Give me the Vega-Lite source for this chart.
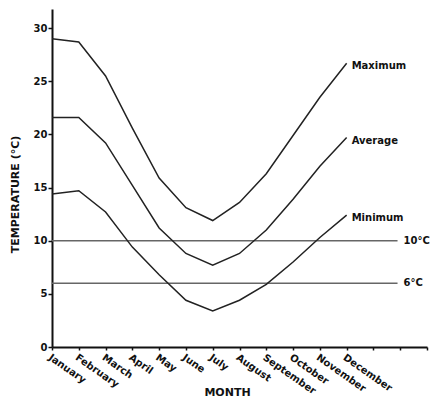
{
  "$schema": "https://vega.github.io/schema/vega-lite/v6.json",
  "width": 375,
  "height": 338,
  "autosize": "none",
  "padding": {"left": 52, "top": 9, "right": 6, "bottom": 54},
  "background": "white",
  "config": {
    "view": {"stroke": null},
    "font": "DejaVu Sans",
    "axis": {"grid": false, "domainColor": "#111", "domainWidth": 2, "tickColor": "#111", "tickWidth": 1.5, "labelFont": "DejaVu Sans", "labelFontWeight": "bold", "labelColor": "#111", "titleFont": "DejaVu Sans", "titleFontWeight": "bold", "titleColor": "#111"}
  },
  "datasets": {
    "series": [
      {"month": 0, "temp": 29.0, "series": "Maximum"},
      {"month": 1, "temp": 28.7, "series": "Maximum"},
      {"month": 2, "temp": 25.5, "series": "Maximum"},
      {"month": 3, "temp": 20.6, "series": "Maximum"},
      {"month": 4, "temp": 15.9, "series": "Maximum"},
      {"month": 5, "temp": 13.1, "series": "Maximum"},
      {"month": 6, "temp": 11.9, "series": "Maximum"},
      {"month": 7, "temp": 13.6, "series": "Maximum"},
      {"month": 8, "temp": 16.3, "series": "Maximum"},
      {"month": 9, "temp": 19.9, "series": "Maximum"},
      {"month": 10, "temp": 23.5, "series": "Maximum"},
      {"month": 11, "temp": 26.7, "series": "Maximum"},
      {"month": 0, "temp": 21.6, "series": "Average"},
      {"month": 1, "temp": 21.6, "series": "Average"},
      {"month": 2, "temp": 19.2, "series": "Average"},
      {"month": 3, "temp": 15.2, "series": "Average"},
      {"month": 4, "temp": 11.2, "series": "Average"},
      {"month": 5, "temp": 8.8, "series": "Average"},
      {"month": 6, "temp": 7.7, "series": "Average"},
      {"month": 7, "temp": 8.8, "series": "Average"},
      {"month": 8, "temp": 11.0, "series": "Average"},
      {"month": 9, "temp": 13.9, "series": "Average"},
      {"month": 10, "temp": 17.0, "series": "Average"},
      {"month": 11, "temp": 19.7, "series": "Average"},
      {"month": 0, "temp": 14.4, "series": "Minimum"},
      {"month": 1, "temp": 14.7, "series": "Minimum"},
      {"month": 2, "temp": 12.7, "series": "Minimum"},
      {"month": 3, "temp": 9.4, "series": "Minimum"},
      {"month": 4, "temp": 6.8, "series": "Minimum"},
      {"month": 5, "temp": 4.4, "series": "Minimum"},
      {"month": 6, "temp": 3.4, "series": "Minimum"},
      {"month": 7, "temp": 4.4, "series": "Minimum"},
      {"month": 8, "temp": 5.9, "series": "Minimum"},
      {"month": 9, "temp": 8.0, "series": "Minimum"},
      {"month": 10, "temp": 10.3, "series": "Minimum"},
      {"month": 11, "temp": 12.4, "series": "Minimum"}
    ],
    "labels": [
      {"month": 11, "temp": 26.7, "label": "Maximum"},
      {"month": 11, "temp": 19.7, "label": "Average"},
      {"month": 11, "temp": 12.4, "label": "Minimum"}
    ],
    "refs": [
      {"month": 0, "end": 12.9, "temp": 10},
      {"month": 0, "end": 12.9, "temp": 6}
    ],
    "reflabels": [
      {"month": 12.9, "temp": 10, "label": "10°C"},
      {"month": 12.9, "temp": 6, "label": "6°C"}
    ]
  },
  "encoding": {
    "x": {"field": "month", "type": "quantitative", "scale": {"domain": [0, 14], "nice": false},
      "axis": {
        "tickCount": 15,
        "tickMinStep": 1,
        "labelExpr": "datum.value <= 11 ? ['January','February','March','April','May','June','July','August','September','October','November','December'][datum.value] : ''",
        "labelOverlap": false, "labelBound": false, "labelFlush": false,
        "labelAngle": 35, "labelAlign": "left", "labelBaseline": "top", "labelFontSize": 10, "labelPadding": 2, "tickSize": 3,
        "title": "MONTH", "titleFontSize": 11, "titleX": 175, "titleY": 45, "titleAlign": "center", "titleBaseline": "middle"
      }},
    "y": {"field": "temp", "type": "quantitative", "scale": {"domain": [0, 31.8], "nice": false},
      "axis": {
        "values": [0, 5, 10, 15, 20, 25, 30],
        "labelOverlap": false,
        "labelFontSize": 10, "labelPadding": 1, "tickSize": 4,
        "title": "TEMPERATURE (°C)", "titleFontSize": 11, "titleX": -37, "titleY": 185, "titleAngle": 270, "titleAlign": "center", "titleBaseline": "middle"
      }}
  },
  "layer": [
    {
      "data": {"name": "refs"},
      "mark": {"type": "rule", "color": "#666", "strokeWidth": 1.5},
      "encoding": {"x2": {"field": "end"}}
    },
    {
      "data": {"name": "reflabels"},
      "mark": {"type": "text", "align": "left", "baseline": "middle", "dx": 6, "fontSize": 10, "fontWeight": "bold", "color": "#111"},
      "encoding": {"text": {"field": "label"}}
    },
    {
      "data": {"name": "series"},
      "mark": {"type": "line", "color": "#222", "strokeWidth": 1.5},
      "encoding": {"detail": {"field": "series"}}
    },
    {
      "data": {"name": "labels"},
      "mark": {"type": "text", "align": "left", "baseline": "middle", "dx": 5, "dy": 3, "fontSize": 10, "fontWeight": "bold", "color": "#111"},
      "encoding": {"text": {"field": "label"}}
    }
  ]
}
